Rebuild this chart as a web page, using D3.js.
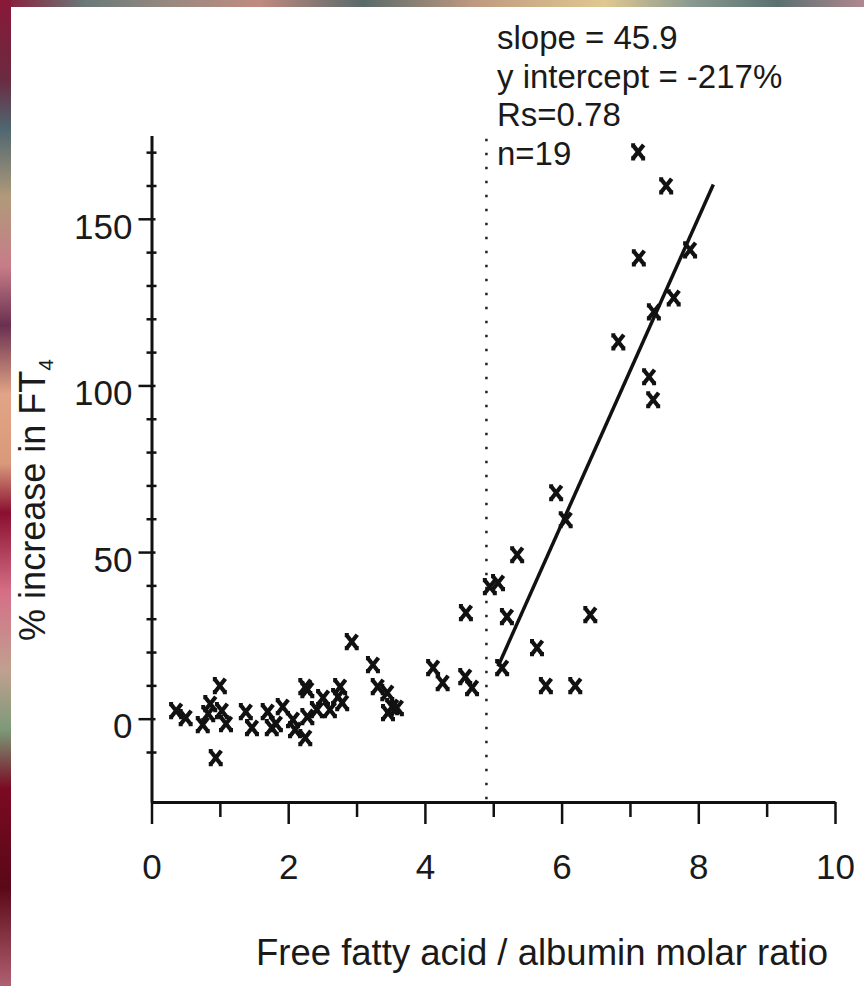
<!DOCTYPE html>
<html>
<head>
<meta charset="utf-8">
<script src="https://cdn.jsdelivr.net/npm/d3@7"></script>
<style>
  html, body { margin: 0; padding: 0; background: #fff; }
  svg { display: block; }
  text { font-family: "Liberation Sans", Arial, sans-serif; fill: #1a1a1a; }
</style>
</head>
<body>
<svg width="864" height="986"></svg>
<script>
// points below the FFA/albumin cut-off (x < ~4.9)
var ratioLow = [0.36, 0.50, 0.75, 0.86, 0.83, 1.00, 1.03, 1.09, 0.94, 1.38, 1.47, 1.70, 1.76, 1.82,
  1.92, 2.07, 2.25, 2.28, 2.25, 2.28, 2.42, 2.51, 2.61, 2.76, 2.79, 2.73, 2.10, 2.93, 3.24, 3.31,
  3.45, 3.52, 3.46, 3.59, 4.12, 4.26, 4.60, 4.59, 4.69];
var pctLow = [2.4, 0.3, -1.8, 4.5, 1.5, 9.9, 2.4, -1.5, -11.7, 2.1, -2.7, 2.1, -2.7, -1.5,
  3.6, -0.3, 9.6, 8.7, -5.7, 0.6, 2.7, 6.3, 2.7, 9.6, 4.8, 6.6, -3.3, 23.1, 16.2, 9.6,
  7.8, 3.6, 1.8, 3.3, 15.3, 10.8, 31.8, 12.6, 9.3];

// points above the cut-off
var ratioHigh = [4.95, 5.07, 5.20, 5.13, 5.35, 5.64, 5.77, 5.92, 6.06, 6.20, 6.42, 6.83, 7.12,
  7.13, 7.28, 7.34, 7.35, 7.53, 7.64, 7.88];
var pctHigh = [39.6, 40.8, 30.6, 15.3, 49.2, 21.3, 9.9, 67.8, 59.7, 9.9, 31.2, 113.1, 170.1,
  138.3, 102.6, 95.7, 122.1, 159.9, 126.3, 140.7];

// regression line ends
var regRatio = [5.07, 8.22];
var regPct = [15.7, 160.3];

var cutoff = 4.9;
var xTicks = [0, 2, 4, 6, 8, 10];
var xMinorTicks = [1, 3, 5, 7, 9];
var yTicks = [0, 50, 100, 150];
var yMinorTicks = [-10, 10, 20, 30, 40, 60, 70, 80, 90, 110, 120, 130, 140, 160, 170];
var statLines = ["slope = 45.9", "y intercept = -217%", "Rs=0.78", "n=19"];

var svg = d3.select("svg");

// painted border strips on the left and top
var defs = svg.append("defs");
var gl = defs.append("linearGradient").attr("id", "leftStrip")
  .attr("x1", 0).attr("y1", 0).attr("x2", 0).attr("y2", 1);
[["0", "#8a1838"], ["0.08", "#6a2a40"], ["0.13", "#4e6670"], ["0.2", "#b09a7a"], ["0.27", "#c77d88"],
 ["0.33", "#6a3050"], ["0.4", "#e2a486"], ["0.47", "#d99a7c"], ["0.52", "#8a0f30"], ["0.6", "#d56f86"],
 ["0.68", "#c0a090"], ["0.74", "#7c9a78"], ["0.8", "#7a0a22"], ["0.9", "#5a0818"], ["1", "#b06070"]]
  .forEach(function (s) { gl.append("stop").attr("offset", s[0]).attr("stop-color", s[1]); });
var gt = defs.append("linearGradient").attr("id", "topStrip")
  .attr("x1", 0).attr("y1", 0).attr("x2", 1).attr("y2", 0);
[["0", "#8a1838"], ["0.1", "#6a7a78"], ["0.2", "#9a8a80"], ["0.3", "#c08a80"], ["0.42", "#5a6a6a"],
 ["0.55", "#c09a80"], ["0.7", "#e0c890"], ["0.8", "#8a9a90"], ["0.9", "#5a7070"], ["1", "#b08890"]]
  .forEach(function (s) { gt.append("stop").attr("offset", s[0]).attr("stop-color", s[1]); });
svg.append("rect").attr("x", 0).attr("y", 0).attr("width", 864).attr("height", 7).attr("fill", "url(#topStrip)");
svg.append("rect").attr("x", 0).attr("y", 0).attr("width", 11).attr("height", 986).attr("fill", "url(#leftStrip)");

var xScale = d3.scaleLinear().domain([0, 10]).range([151.5, 835]);
var yScale = d3.scaleLinear().domain([-25, 175]).range([802, 135.5]);

var fontTick = 35;

// x axis: major + minor ticks
var xAxis = svg.append("g").attr("transform", "translate(0," + yScale(-25) + ")")
  .call(d3.axisBottom(xScale).tickValues(xTicks).tickSize(22).tickSizeOuter(0).tickPadding(30));
var xMinor = svg.append("g").attr("transform", "translate(0," + yScale(-25) + ")")
  .call(d3.axisBottom(xScale).tickValues(xMinorTicks).tickSize(15).tickSizeOuter(0).tickFormat(""));
xMinor.select(".domain").remove();

// y axis
var yAxis = svg.append("g").attr("transform", "translate(" + xScale(0) + ",0)")
  .call(d3.axisLeft(yScale).tickValues(yTicks).tickSize(13).tickSizeOuter(0).tickPadding(6));
yAxis.selectAll(".tick line").attr("x2", 4).attr("x1", -13);
var yMinor = svg.append("g").attr("transform", "translate(" + xScale(0) + ",0)")
  .call(d3.axisLeft(yScale).tickValues(yMinorTicks).tickSize(5).tickSizeOuter(0).tickFormat(""));
yMinor.select(".domain").remove();
yMinor.selectAll(".tick line").attr("x1", 5).attr("x2", -5);

svg.selectAll(".domain").attr("stroke", "#111").attr("stroke-width", 3);
svg.selectAll(".tick line").attr("stroke", "#111").attr("stroke-width", 2.5);
svg.selectAll(".tick text").style("font-family", "Liberation Sans, Arial, sans-serif")
  .style("font-size", fontTick + "px").attr("fill", "#1a1a1a");
xAxis.selectAll(".tick text").attr("dy", "0.71em");
yAxis.selectAll(".tick text").attr("dy", "0.55em");

// cut-off line
svg.append("line")
  .attr("x1", xScale(cutoff)).attr("x2", xScale(cutoff))
  .attr("y1", yScale(174)).attr("y2", yScale(-25))
  .attr("stroke", "#222").attr("stroke-width", 2.5)
  .attr("stroke-dasharray", "2.5,11.5");

// regression line
var line = d3.line().x(function (d) { return xScale(d[0]); }).y(function (d) { return yScale(d[1]); });
svg.append("path")
  .datum(d3.zip(regRatio, regPct))
  .attr("fill", "none").attr("stroke", "#111").attr("stroke-width", 3.5)
  .attr("d", line);

// x markers
var pts = d3.zip(ratioLow, pctLow).concat(d3.zip(ratioHigh, pctHigh));
var mark = "M-5.5,-7L5.5,7M5.5,-7L-5.5,7M-7,-6.5L-3,-6.5M3,6.5L7,6.5M-7,6.5L-3,6.5";
svg.append("g").selectAll("path")
  .data(pts)
  .enter()
  .append("path")
  .attr("transform", function (d) { return "translate(" + xScale(d[0]) + "," + yScale(d[1]) + ")"; })
  .attr("d", mark)
  .attr("fill", "none").attr("stroke", "#111").attr("stroke-width", 4.2);

// stats text
svg.append("g").selectAll("text")
  .data(statLines)
  .enter()
  .append("text")
  .attr("x", 497)
  .attr("y", function (d, i) { return 49 + i * 38.7; })
  .style("font-size", "33px")
  .text(function (d) { return d; });

// axis titles
svg.append("text")
  .attr("x", 542).attr("y", 965)
  .attr("text-anchor", "middle")
  .style("font-size", "36.5px")
  .text("Free fatty acid / albumin molar ratio");

var yTitle = svg.append("text")
  .attr("transform", "translate(45,500) rotate(-90)")
  .attr("text-anchor", "middle")
  .style("font-size", "36px");
yTitle.append("tspan").text("% increase in FT");
yTitle.append("tspan").attr("dy", 8).style("font-size", "21px").text("4");
</script>
</body>
</html>
